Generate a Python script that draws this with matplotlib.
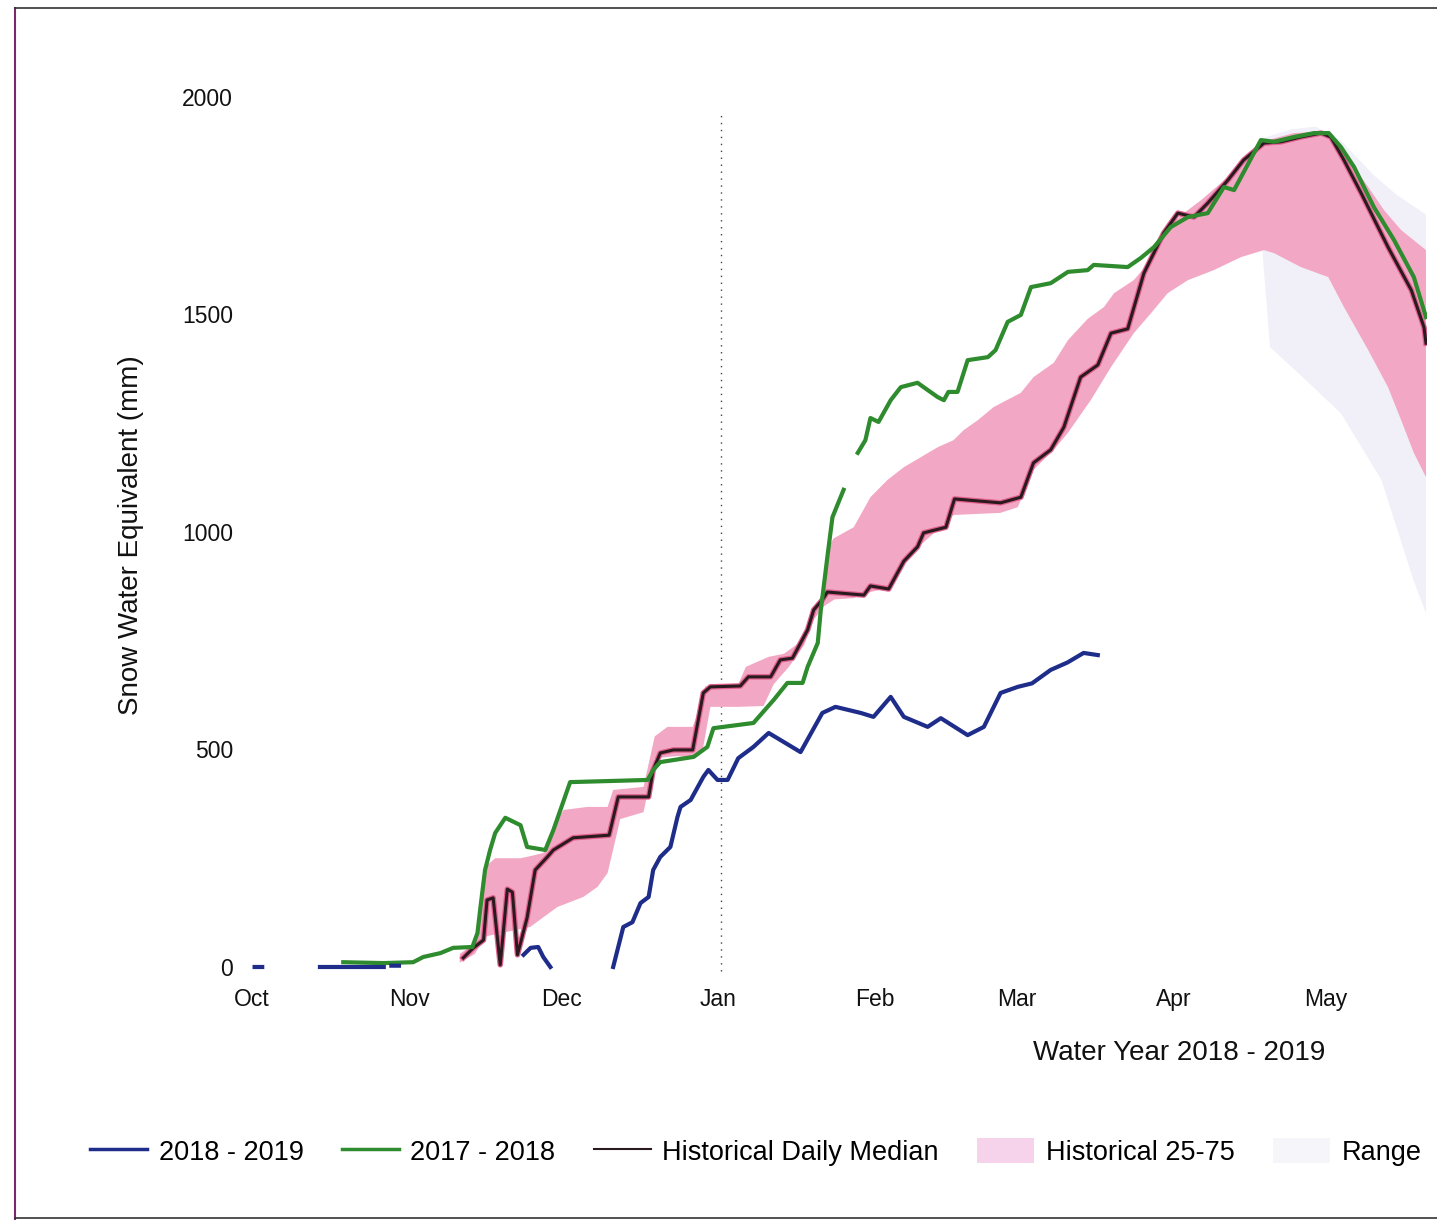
# swe_plot.py
#
# Snow water equivalent for water year 2018 - 2019 against last year,
# the historical daily median, the 25-75 band and the historical range.

import numpy as np
import matplotlib.pyplot as plt
import matplotlib.patheffects as pe
from matplotlib.lines import Line2D
from matplotlib.patches import Patch

plt.rcParams['font.family'] = ['Liberation Sans', 'DejaVu Sans']

# --- DATA (x = days since Oct 1, y = SWE in mm) ---
MONTHS = ['Oct', 'Nov', 'Dec', 'Jan', 'Feb', 'Mar', 'Apr', 'May']
MONTH_DAYS = [0, 31, 61, 92, 123, 151, 182, 212]
Y_TICKS = [0, 500, 1000, 1500, 2000]
TODAY_DAY = 92.5

nan = np.nan
days_1819 = [0.5, 2.0, 2.5, 13.4, 26.0, 26.5, 27.5, 29.0, 29.5,
             53.6, 55.0, 56.5, 57.5, 58.9, 59.5,
             71.3, 73.3, 75.1, 76.7, 78.3, 79.2, 80.6, 82.6, 84.0, 84.6, 86.6,
             89.1, 90.1, 91.9, 93.9, 96.0, 99.0, 102.0, 104.3, 108.3, 112.6,
             115.2, 120.2, 122.7, 126.1, 128.7, 133.4, 136.0, 141.3, 144.5,
             147.8, 151.2, 154.0, 157.7, 161.0, 164.2, 167.0]
swe_1819 = [0, 0, nan, 0, 0, nan, 3, 3, nan,
            28, 44, 46, 23, 0, nan,
            0, 92, 103, 147, 161, 223, 253, 276, 345, 368, 384,
            437, 453, 430, 430, 480, 506, 538, 522, 494, 584,
            598, 584, 575, 621, 575, 552, 572, 533, 552,
            630, 644, 652, 683, 700, 722, 717]

days_1718 = [18.0, 25.9, 31.8, 33.8, 37.2, 39.7, 43.5, 44.5, 45.1, 46.0, 47.0,
             48.0, 50.0, 53.0, 54.3, 57.9, 59.5, 62.8, 78.1, 79.2, 80.6, 87.2,
             89.9, 91.1, 99.0, 103.0, 105.7, 108.7, 109.7, 111.7, 112.3, 112.8,
             113.6, 114.6, 116.8, 117.5, 119.6, 121.1, 122.1, 123.7, 126.1,
             128.1, 131.4, 132.6, 135.4, 136.6, 137.5, 139.3, 141.3, 145.3,
             146.8, 149.2, 151.8, 153.8, 157.7, 161.1, 165.0, 166.2, 172.9,
             175.5, 178.1, 181.4, 184.8, 188.7, 191.9, 193.9, 199.2, 201.8,
             205.7, 209.7, 212.6, 215.0, 217.6, 221.5, 225.5, 229.4, 231.8]
swe_1718 = [11, 9, 11, 23, 32, 44, 46, 78, 138, 223, 269,
            308, 343, 326, 276, 269, 315, 425, 430, 453, 471, 483,
            506, 549, 561, 614, 653, 653, 690, 745, 821, 867,
            943, 1034, 1097, nan, 1182, 1211, 1262, 1253, 1303,
            1333, 1343, 1333, 1310, 1303, 1322, 1322, 1395, 1402,
            1418, 1483, 1499, 1563, 1572, 1598, 1602, 1614, 1609,
            1630, 1655, 1701, 1724, 1733, 1793, 1786, 1901, 1897,
            1908, 1917, 1917, 1885, 1839, 1747, 1671, 1586, 1494]

median_days = [41.7, 43.7, 45.7, 46.4, 47.6, 49.0, 50.4, 51.4, 52.4, 54.3,
               55.9, 58.3, 59.5, 63.4, 70.5, 72.3, 78.3, 79.2, 80.6, 83.2,
               87.0, 89.1, 90.5, 96.4, 98.0, 102.4, 104.3, 106.7, 109.7,
               110.9, 112.6, 113.6, 120.8, 122.1, 125.7, 128.7, 131.4, 132.6,
               137.0, 138.7, 147.8, 151.8, 154.3, 157.7, 160.3, 163.6, 167.0,
               169.6, 172.9, 176.1, 180.0, 182.8, 186.0, 188.7, 192.7, 195.8,
               199.8, 203.2, 207.1, 211.1, 213.0, 215.6, 219.0, 224.3, 228.9,
               231.4, 231.8]
median_swe = [21, 44, 62, 154, 159, 5, 179, 172, 28, 113,
              223, 253, 269, 297, 303, 391, 391, 453, 492, 499,
              499, 630, 644, 646, 667, 667, 706, 710, 775,
              821, 844, 862, 855, 876, 869, 933, 966, 998,
              1011, 1076, 1067, 1080, 1159, 1189, 1241, 1356, 1384,
              1457, 1467, 1595, 1687, 1733, 1724, 1756, 1809, 1855,
              1894, 1897, 1908, 1917, 1908, 1855, 1779, 1655, 1556,
              1471, 1434]

p75_days = [41, 44, 46, 48, 53, 55, 57.5, 60.3, 61.5, 66.2, 70.2, 71.3, 77.3,
            79.5, 82, 87, 88.5, 89.5, 96, 97.5, 102, 105, 108, 110.5, 112.5,
            113.6, 114.8, 118.8, 122.1, 125.5, 128.7, 135.4, 138.5, 140.5,
            143.3, 146.4, 151.8, 154.3, 158.3, 161.1, 165, 168.2, 170.2, 174.1,
            177.5, 180.8, 184, 187.4, 192.7, 197.2, 200.6, 205.7, 210.5, 213.6,
            217.6, 220.4, 223.5, 226.9, 231.8]
p75_swe = [30, 55, 230, 250, 250, 255, 262, 338, 361, 368, 368, 407, 414,
           530, 552, 552, 598, 645, 650, 690, 713, 720, 745, 790, 860,
           960, 985, 1011, 1080, 1120, 1149, 1195, 1211, 1234,
           1257, 1287, 1320, 1356, 1389, 1441, 1490, 1517, 1549, 1579,
           1625, 1701, 1733, 1763, 1816, 1871, 1901, 1917, 1920, 1908,
           1839, 1793, 1740, 1694, 1648]

p25_days = [41, 44, 46, 50, 54.9, 60.3, 65.4, 68.2, 70.2, 71.5, 72.7, 77.3,
            79.5, 84, 87, 89, 90.5, 96, 101, 103, 106, 109, 111, 113, 115,
            118.8, 122.1, 125.5, 128.7, 132, 135.4, 138.5, 147.8, 151.2, 154.3,
            158.3, 161.1, 165.6, 169.6, 174.1, 177.5, 180.8, 184.8, 189.9,
            195.3, 199.8, 201.8, 207.1, 212.5, 215.6, 220.4, 224.3, 226.9,
            229.4, 231.8]
p25_swe = [10, 30, 70, 80, 92, 138, 161, 184, 216, 280, 340, 356,
           480, 485, 480, 500, 598, 598, 600, 650, 690, 740, 800, 830, 845,
           848, 862, 871, 924, 970, 1005, 1039, 1044, 1057, 1143,
           1189, 1228, 1303, 1379, 1457, 1503, 1549, 1579, 1602,
           1632, 1648, 1641, 1609, 1586, 1517, 1418, 1333, 1257,
           1182, 1126]

range_hi_days = [199.5, 205, 210, 215, 221.5, 226, 231.8]
range_hi_swe = [1905, 1925, 1932, 1900, 1820, 1775, 1730]
range_lo_days = [199.5, 201, 208, 215, 223, 229.4, 231.8]
range_lo_swe = [1648, 1425, 1350, 1273, 1120, 887, 814]

# --- STYLE ---
BLUE = '#1f2d8a'
GREEN = '#2e8b2e'
MEDIAN = '#2a1a1e'
BAND = '#f2a8c4'
RANGE = '#f1eff8'
FS_TICK = 16.5
FS_LABEL = 20
FS_LEGEND = 19.5


def main():
    fig = plt.figure(figsize=(14.37, 12.2), dpi=100)
    ax = fig.add_axes([0.17049, 0.20025, 0.82255, 0.74164])

    # historical range and 25-75 band as polygons
    ax.fill(np.concatenate([range_hi_days, range_lo_days[::-1]]),
            np.concatenate([range_hi_swe, range_lo_swe[::-1]]),
            color=RANGE, lw=0, zorder=1)
    ax.fill(np.concatenate([p75_days, p25_days[::-1]]),
            np.concatenate([p75_swe, p25_swe[::-1]]),
            color=BAND, lw=0, zorder=2)

    ax.plot(median_days, median_swe, color=MEDIAN, lw=2.2, zorder=3,
            path_effects=[pe.Stroke(linewidth=4, foreground='#e0608f'), pe.Normal()])
    ax.plot(days_1718, swe_1718, color=GREEN, lw=3, zorder=4)
    ax.plot(days_1819, swe_1819, color=BLUE, lw=3, zorder=5)

    # dotted "today" marker
    ax.plot([TODAY_DAY, TODAY_DAY], [-10, 1970], color='#444444', lw=1,
            ls=(0, (1, 4)), zorder=1.5)

    ax.set_xlim(-1.4, 232.0)
    ax.set_ylim(-20, 2060)
    ax.set_xticks(MONTH_DAYS)
    ax.set_xticklabels(MONTHS)
    ax.set_yticks(Y_TICKS)
    ax.tick_params(length=0, labelsize=FS_TICK, colors='#111111')
    ax.tick_params(axis='x', pad=8.6)
    ax.tick_params(axis='y', pad=8.6)
    for s in ax.spines.values():
        s.set_visible(False)

    fig.text(131 / 1437, 1 - 535 / 1220, 'Snow Water Equivalent (mm)',
             rotation=90, ha='center', va='center', fontsize=FS_LABEL, color='#111111')
    fig.text(1179 / 1437, 1 - 1053 / 1220, 'Water Year 2018 - 2019',
             ha='center', va='center', fontsize=FS_LABEL, color='#111111')

    handles = [
        Line2D([], [], color=BLUE, lw=2.5),
        Line2D([], [], color=GREEN, lw=2.5),
        Line2D([], [], color=MEDIAN, lw=1.5),
        Patch(facecolor='#f6d3ea', edgecolor='none'),
        Patch(facecolor='#f6f5fa', edgecolor='none'),
    ]
    labels = ['2018 - 2019', '2017 - 2018', 'Historical Daily Median',
              'Historical 25-75', 'Range']
    fig.legend(handles, labels, loc='center left',
               bbox_to_anchor=(90 / 1437, 1 - 1152 / 1220), ncol=5,
               frameon=False, fontsize=FS_LEGEND, handlelength=2.1,
               handleheight=1.0, handletextpad=0.43, columnspacing=1.42,
               borderpad=0, borderaxespad=0)

    # scanned page border
    fig.add_artist(Line2D([15 / 1437, 15 / 1437], [0, 1 - 8 / 1220],
                          transform=fig.transFigure, color='#7a2a6a', lw=1.5))
    fig.add_artist(Line2D([15 / 1437, 1], [1 - 8 / 1220, 1 - 8 / 1220],
                          transform=fig.transFigure, color='#333333', lw=1.2))
    fig.add_artist(Line2D([15 / 1437, 1], [1 - 1218 / 1220, 1 - 1218 / 1220],
                          transform=fig.transFigure, color='#333333', lw=1.2))

    fig.savefig('out.png', dpi=100)
    plt.close(fig)


if __name__ == '__main__':
    main()
